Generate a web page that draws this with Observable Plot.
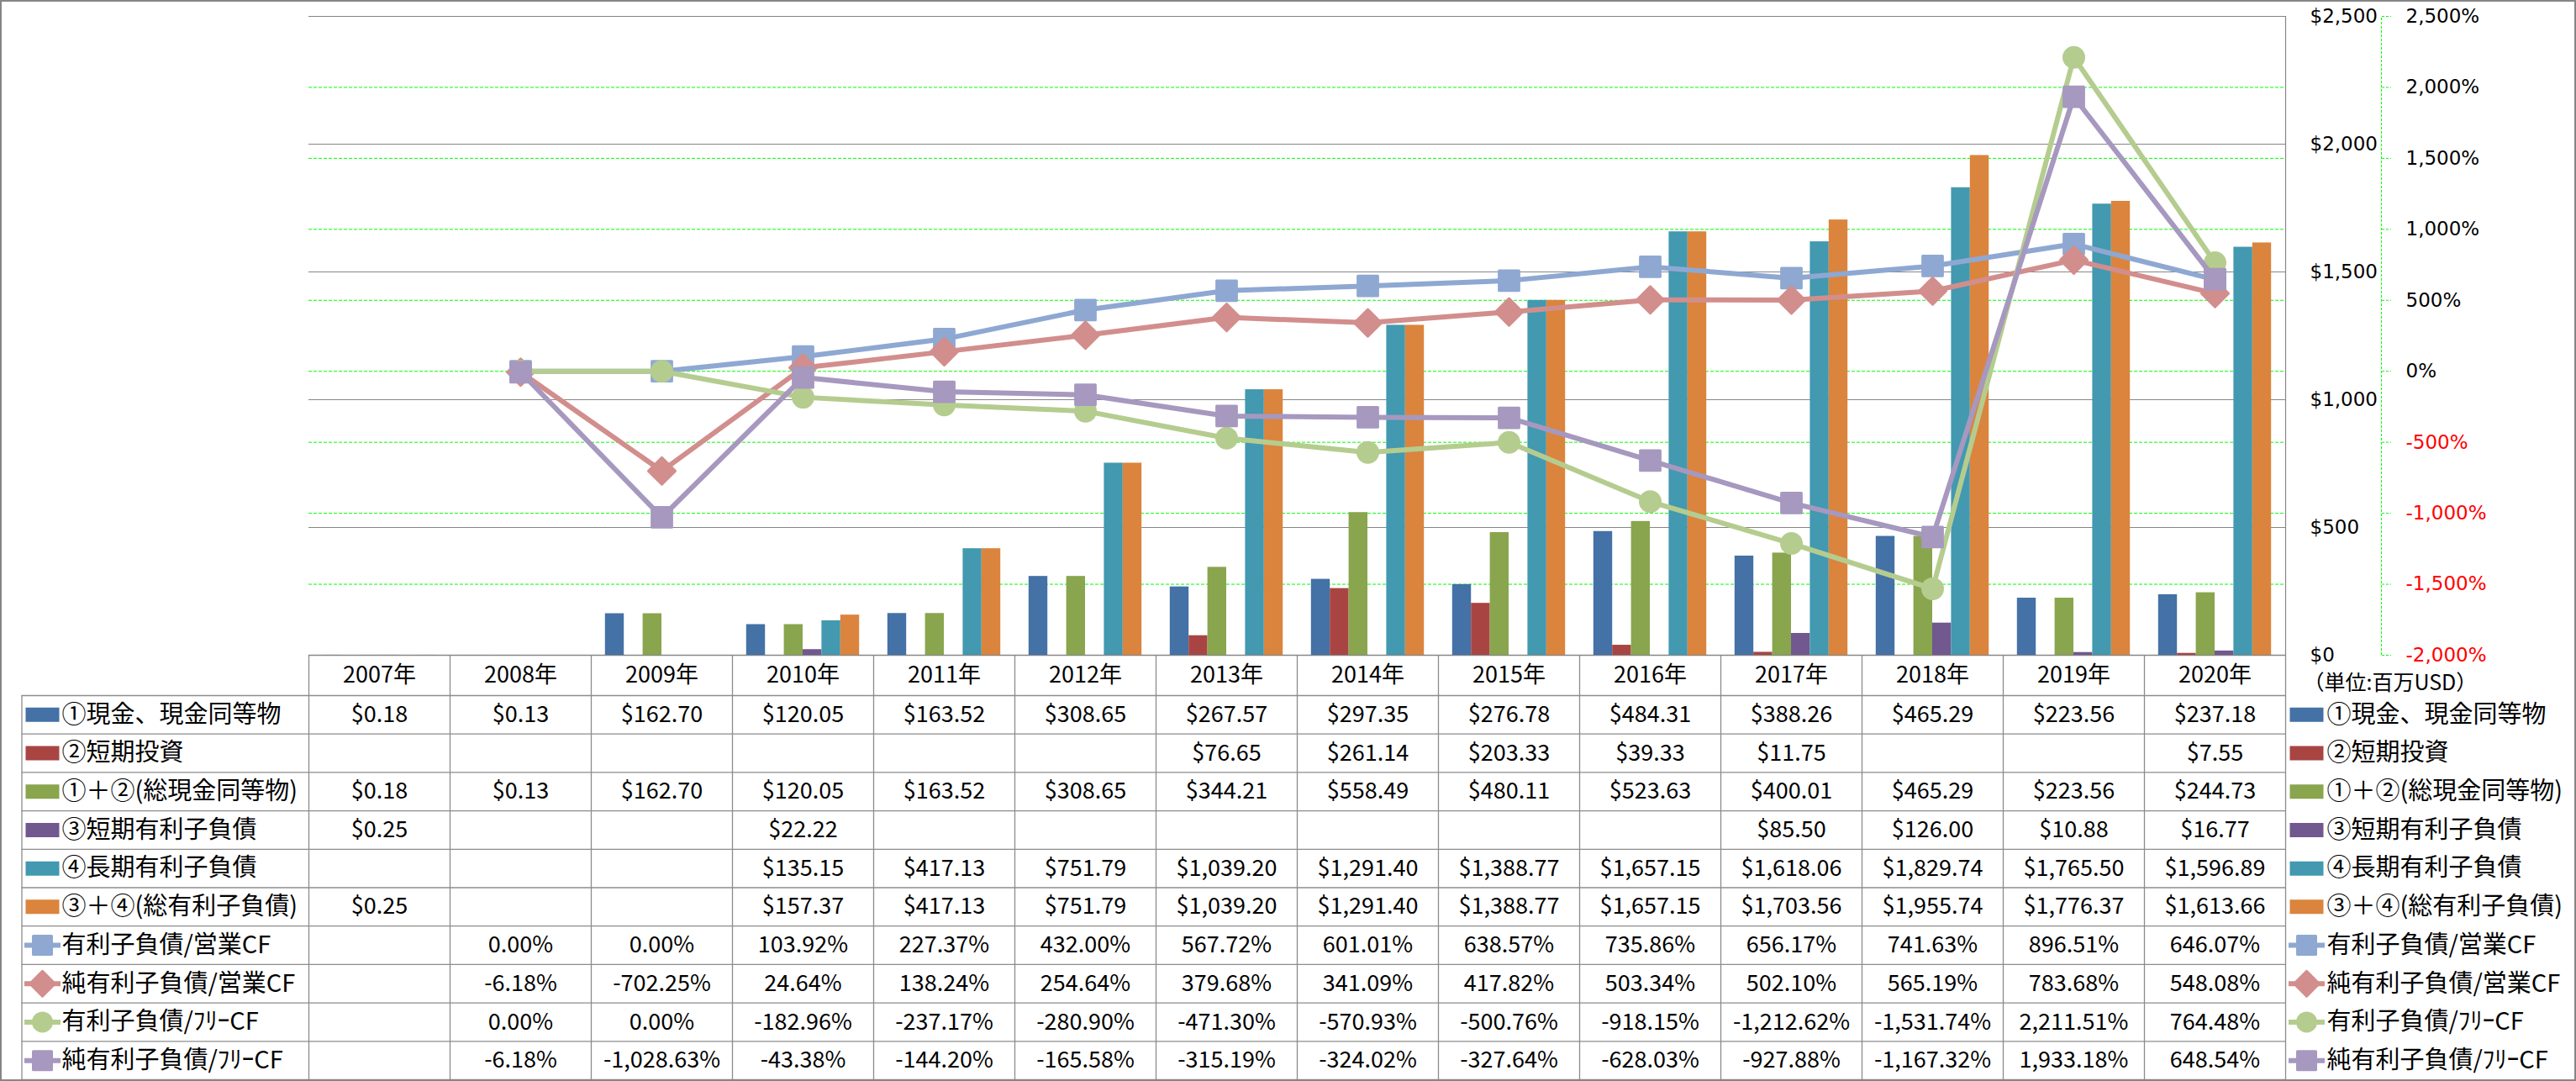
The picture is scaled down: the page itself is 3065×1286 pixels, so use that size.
<!DOCTYPE html>
<html><head><meta charset="utf-8">
<script src="https://cdn.jsdelivr.net/npm/d3@7"></script>
<script src="https://cdn.jsdelivr.net/npm/@observablehq/plot@0.6"></script>
<style>
html,body{margin:0;padding:0;background:#fff;}
#wrap{position:relative;width:3065px;height:1286px;overflow:hidden;background:#fff;}
#table{position:absolute;left:0;top:779px;z-index:1;}
#chart{position:absolute;left:0;top:0;z-index:2;}
#frame{position:absolute;left:0;top:0;width:3065px;height:1286px;box-sizing:border-box;border:2px solid #868686;z-index:3;pointer-events:none;}
svg{display:block;}
</style></head><body>
<div id="wrap"><div id="table"></div><div id="chart"></div><div id="frame"></div></div>
<script>
// ---------- data ----------
const years = [2007,2008,2009,2010,2011,2012,2013,2014,2015,2016,2017,2018,2019,2020];
const cash      = [0.18,0.13,162.70,120.05,163.52,308.65,267.57,297.35,276.78,484.31,388.26,465.29,223.56,237.18];
const shortInv  = [null,null,null,null,null,null,76.65,261.14,203.33,39.33,11.75,null,null,7.55];
const totalCash = [0.18,0.13,162.70,120.05,163.52,308.65,344.21,558.49,480.11,523.63,400.01,465.29,223.56,244.73];
const shortDebt = [0.25,null,null,22.22,null,null,null,null,null,null,85.50,126.00,10.88,16.77];
const longDebt  = [null,null,null,135.15,417.13,751.79,1039.20,1291.40,1388.77,1657.15,1618.06,1829.74,1765.50,1596.89];
const totalDebt = [0.25,null,null,157.37,417.13,751.79,1039.20,1291.40,1388.77,1657.15,1703.56,1955.74,1776.37,1613.66];
const debtOpCF      = [null,0,0,103.92,227.37,432.00,567.72,601.01,638.57,735.86,656.17,741.63,896.51,646.07];
const netDebtOpCF   = [null,-6.18,-702.25,24.64,138.24,254.64,379.68,341.09,417.82,503.34,502.10,565.19,783.68,548.08];
const debtFreeCF    = [null,0,0,-182.96,-237.17,-280.90,-471.30,-570.93,-500.76,-918.15,-1212.62,-1531.74,2211.51,764.48];
const netDebtFreeCF = [null,-6.18,-1028.63,-43.38,-144.20,-165.58,-315.19,-324.02,-327.64,-628.03,-927.88,-1167.32,1933.18,648.54];

const barNames  = ["①現金、現金同等物","②短期投資","①＋②(総現金同等物)","③短期有利子負債","④長期有利子負債","③＋④(総有利子負債)"];
const lineNames = ["有利子負債/営業CF","純有利子負債/営業CF","有利子負債/ﾌﾘｰCF","純有利子負債/ﾌﾘｰCF"];
const barValues  = [cash, shortInv, totalCash, shortDebt, longDebt, totalDebt];
const lineValues = [debtOpCF, netDebtOpCF, debtFreeCF, netDebtFreeCF];
const dollarTicks = [0,500,1000,1500,2000,2500];
const pctTicks = [-2000,-1500,-1000,-500,0,500,1000,1500,2000,2500];
const unitLabel = "（単位:百万USD）";

// ---------- styles ----------
const barColors  = ["#4471A6","#A84543","#89A54E","#71588F","#4299B0","#DB843D"];
const lineColors = ["#8EA8D2","#D28E8C","#B5CC8F","#A698BF"];
const lineSymbols = ["square","diamond2","circle","square"];
const symbolR = [13.4,14.4,12,13.4];
const gridGray = "#868686";
const tableGray = "#8C8C8C";

// ---------- helpers ----------
const loc = d3.formatLocale({decimal:".", thousands:",", grouping:[3], currency:["$",""], minus:"-"});
const f2 = loc.format(",.2f"), f0 = loc.format(",");
const pctMin = pctTicks[0], pctMax = pctTicks[pctTicks.length-1], dMax = dollarTicks[dollarTicks.length-1];
const toDollar = p => (p - pctMin) * dMax / (pctMax - pctMin);
const toPct = d => Math.round(d * (pctMax - pctMin) / dMax + pctMin);

// shared x scale: label column | year columns | right legend
const first = years[0], last = years[years.length-1];
const labelLeft = first - 1.5, yearLeft = first - 0.5, yearRight = last + 0.5, legendRight = last + 1.5;
const xScale = {type:"linear", domain:[labelLeft, yearLeft, yearRight, legendRight], range:[25.5, 367, 2719, 3063], axis:null};

const groupW = 0.8, nb = barValues.length, bw = groupW / nb;

// ---------- chart ----------
const marks = [];
marks.push(Plot.ruleY(pctTicks.slice(1,-1).map(toDollar), {y: d => d, stroke:"#00FF00", strokeDasharray:"4,2", strokeWidth:1}));
marks.push(Plot.ruleY(dollarTicks, {y: d => d, stroke:gridGray, strokeWidth:1.2}));
marks.push(Plot.ruleX([yearRight], {x: d => d, y1:0, y2:dMax, stroke:gridGray, strokeWidth:1.2}));
barValues.forEach((vals, s) => {
  const data = years.map((y,j) => ({year:y, value:vals[j]})).filter(d => d.value != null);
  marks.push(Plot.rectY(data, {x1: d => d.year - groupW/2 + s*bw, x2: d => d.year - groupW/2 + (s+1)*bw, y1: 0, y2: "value", fill: barColors[s]}));
});
lineValues.forEach((vals, k) => {
  const data = years.map((y,j) => ({year:y, pct:vals[j]})).filter(d => d.pct != null);
  marks.push(Plot.line(data, {x:"year", y: d => toDollar(d.pct), stroke: lineColors[k], strokeWidth:6, strokeLinejoin:"round", strokeLinecap:"round"}));
  marks.push(Plot.dot(data, {x:"year", y: d => toDollar(d.pct), symbol: lineSymbols[k], r: symbolR[k], fill: lineColors[k], stroke: lineColors[k], strokeWidth:3, strokeLinejoin:"round"}));
});
marks.push(Plot.axisY(dollarTicks, {anchor:"right", tickSize:0, tickPadding:29, tickFormat: d => "$" + f0(d), fontSize:23, label:null, fill:"#000"}));
marks.push(Plot.ruleX([yearRight], {x: d => d, y1:0, y2:dMax, dx:114, stroke:"#00FF00", strokeDasharray:"3,2", strokeWidth:1}));
marks.push(Plot.axisY(pctTicks.filter(p => p >= 0).map(toDollar), {anchor:"right", dx:114, tickSize:11, tickPadding:18, stroke:"#00FF00", strokeDasharray:"3,2", fill:"#000", tickFormat: d => f0(toPct(d)) + "%", fontSize:23, label:null}));
marks.push(Plot.axisY(pctTicks.filter(p => p < 0).map(toDollar), {anchor:"right", dx:114, tickSize:11, tickPadding:18, stroke:"#00FF00", strokeDasharray:"3,2", fill:"#FF0000", tickFormat: d => f0(toPct(d)) + "%", fontSize:23, label:null}));

const chart = Plot.plot({
  width:3065, height:800, marginTop:19, marginBottom:21, marginLeft:367, marginRight:346,
  x: xScale,
  y: {domain:[0, dMax]},
  style: {background:"transparent", overflow:"visible", fontFamily:"'DejaVu Sans', Verdana, sans-serif"},
  marks
});
document.getElementById("chart").appendChild(chart);

// ---------- data table ----------
const rows = [
  ...barNames.map((name,s) => ({name, kind:"bar", k:s, values:barValues[s]})),
  ...lineNames.map((name,k) => ({name, kind:"line", k, values:lineValues[k]}))
].map((r,i) => ({...r, row:i+1}));
const nRows = rows.length;
const cells = [];
rows.forEach(r => r.values.forEach((v,j) => {
  if (v != null) cells.push({year:years[j], row:r.row, text: r.kind === "bar" ? "$" + f2(v) : f2(v) + "%"});
}));
const colEdges = years.map(y => y - 0.5).concat([yearRight]);
const barRows = rows.filter(r => r.kind === "bar");
const lineRows = rows.filter(r => r.kind === "line");
const swatch = {draw(ctx){ ctx.moveTo(-20,-8.5); ctx.lineTo(20,-8.5); ctx.lineTo(20,8.5); ctx.lineTo(-20,8.5); ctx.closePath(); }};
const seg = {draw(ctx){ ctx.moveTo(-21.5,-3); ctx.lineTo(21.5,-3); ctx.lineTo(21.5,3); ctx.lineTo(-21.5,3); ctx.closePath(); }};
const cjk = "'Noto Sans CJK JP', 'Noto Sans', sans-serif";

const tmarks = [
  Plot.ruleY([0], {y: d => d, x1: yearLeft, x2: yearRight, stroke: tableGray, strokeWidth:1.3}),
  Plot.ruleY(d3.range(1, nRows + 2), {y: d => d, x1: labelLeft, x2: yearRight, stroke: tableGray, strokeWidth:1.3}),
  Plot.ruleX(colEdges, {x: d => d, y1: 0, y2: nRows + 1, stroke: tableGray, strokeWidth:1.3}),
  Plot.ruleX([labelLeft], {x: d => d, y1: 1, y2: nRows + 1, stroke: tableGray, strokeWidth:1.3}),
  Plot.text(years, {x: d => d, y: 0.5, text: d => d + "年", fontSize:27, fill:"#000"}),
  Plot.text(cells, {x:"year", y: d => d.row + 0.5, text:"text", fontSize:27, fill:"#000"}),
  Plot.text([unitLabel], {x: yearRight, y: 0.5, dx:21, dy:9, text: d => d, textAnchor:"start", fontSize:25, fill:"#000"})
];
[labelLeft, yearRight].forEach((x0, side) => {
  const sx = side === 0 ? 24.5 : 25, tx = side === 0 ? 47.5 : 49;
  barRows.forEach(r => tmarks.push(Plot.dot([r], {x: x0, y: d => d.row + 0.5, dx: sx, symbol: swatch, fill: barColors[r.k], stroke:"none"})));
  lineRows.forEach(r => {
    tmarks.push(Plot.dot([r], {x: x0, y: d => d.row + 0.5, dx: sx, symbol: seg, fill: lineColors[r.k], stroke:"none"}));
    tmarks.push(Plot.dot([r], {x: x0, y: d => d.row + 0.5, dx: sx, symbol: lineSymbols[r.k], r: symbolR[r.k] - 1, fill: lineColors[r.k], stroke: lineColors[r.k], strokeWidth:3, strokeLinejoin:"round"}));
  });
  tmarks.push(Plot.text(rows, {x: x0, y: d => d.row + 0.5, dx: tx, text:"name", textAnchor:"start", fontSize:29, fill:"#000"}));
});

const table = Plot.plot({
  width:3065, height:507, marginTop:0, marginBottom:0, marginLeft:0, marginRight:0,
  x: xScale,
  y: {type:"linear", domain:[0, 1, nRows + 1], range:[0, 48, 505], axis:null},
  style: {background:"transparent", overflow:"visible", fontFamily: cjk},
  marks: tmarks
});
document.getElementById("table").appendChild(table);
</script>
</body></html>
